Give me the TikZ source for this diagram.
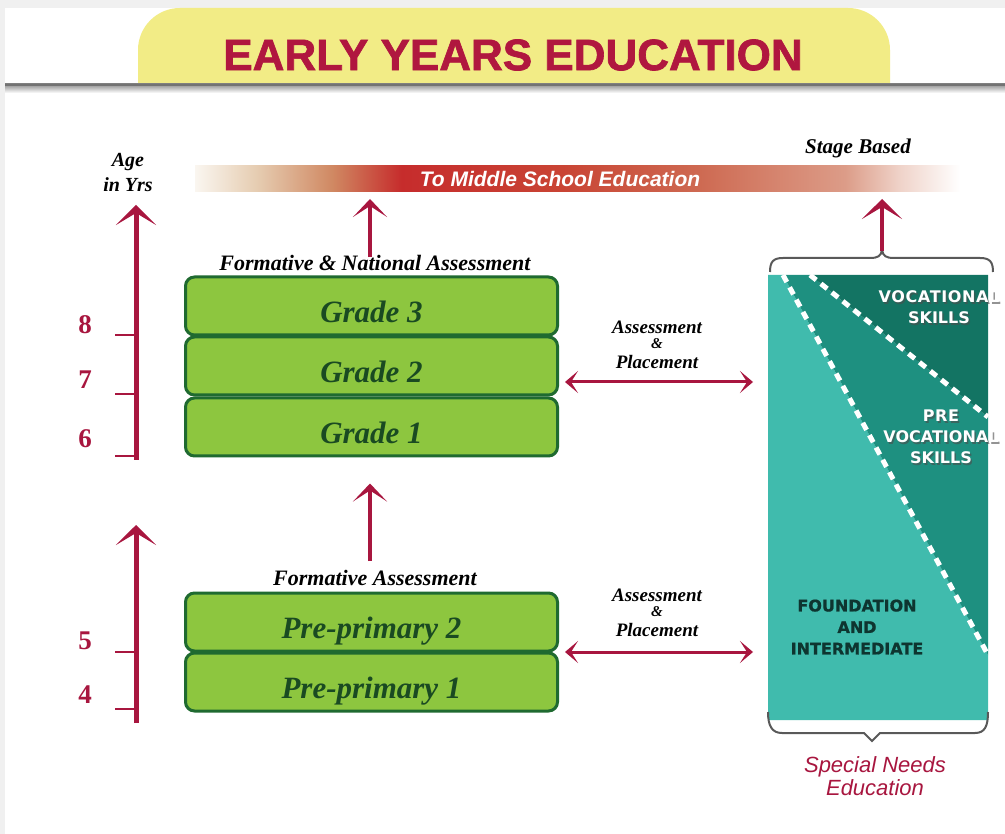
\documentclass[tikz,border=0pt]{standalone}
\usepackage{fontspec}
\setsansfont{Liberation Sans}
\newfontfamily\timesbf{Liberation Serif}
\newfontfamily\djv{DejaVu Sans}
\usetikzlibrary{arrows.meta}
\definecolor{crim}{HTML}{A8163F}
\definecolor{titlered}{HTML}{B0173F}
\definecolor{tabyellow}{HTML}{F2EC86}
\definecolor{gfill}{HTML}{8DC63F}
\definecolor{gborder}{HTML}{1F6A30}
\definecolor{gtext}{HTML}{1A4A22}
\definecolor{tlight}{HTML}{40BBAD}
\definecolor{tmid}{HTML}{1E9080}
\definecolor{tdark}{HTML}{137463}
\definecolor{ftext}{HTML}{0E3530}
\definecolor{bwhite}{HTML}{FAF6F0}
\definecolor{btan}{HTML}{E6CDB2}
\definecolor{bmid}{HTML}{D08862}
\definecolor{bred}{HTML}{C62C2C}
\definecolor{bred2}{HTML}{C94434}
\definecolor{bsal}{HTML}{CE6A52}
\definecolor{bpink}{HTML}{DC9C88}
\definecolor{bfade}{HTML}{EFD2C8}
\pgfdeclarehorizontalshading{barshade}{100bp}{color(0bp)=(bwhite); color(25bp)=(bwhite); color(29bp)=(btan); color(34bp)=(bmid); color(38.5bp)=(bred); color(49bp)=(bred2); color(58bp)=(bsal); color(67.5bp)=(bpink); color(71bp)=(bfade); color(75bp)=(white); color(100bp)=(white)}
\begin{document}
\begin{tikzpicture}[x=1pt,y=-1pt,
  bigarrow/.style={draw=crim, line width=5pt, -{Stealth[length=20pt,width=40pt,inset=12pt]}},
  midarrow/.style={draw=crim, line width=4pt, -{Stealth[length=18pt,width=34pt,inset=11pt]}},
  duoarrow/.style={draw=crim, line width=3pt, {Stealth[length=13pt,width=22pt,inset=7pt]}-{Stealth[length=13pt,width=22pt,inset=7pt]}},
  gradebox/.style={draw=gborder, fill=gfill, line width=3pt, rounded corners=9pt, minimum width=372pt, minimum height=58pt, inner sep=0pt, text height=33pt, text depth=0pt, text=gtext, font=\fontsize{31}{33}\selectfont\timesbf\bfseries\itshape},
  seriflabel/.style={font=\fontsize{22}{24}\selectfont\timesbf\bfseries\itshape, inner sep=0pt},
  aplabel/.style={font=\fontsize{19}{20}\selectfont\timesbf\bfseries\itshape, inner sep=0pt},
  amplabel/.style={font=\fontsize{15}{16}\selectfont\timesbf\bfseries\itshape, inner sep=0pt},
  agenum/.style={text=crim, font=\fontsize{27}{28}\selectfont\timesbf\bfseries, inner sep=0pt},
  tickline/.style={draw=crim, line width=2.5pt},
  whitecap/.style={text=white, font=\fontsize{16}{21}\selectfont\djv\bfseries, align=center, inner sep=0pt},
  bracket/.style={draw=black!65, line width=2pt},
  whitedash/.style={draw=white, line width=5pt, dash pattern=on 8pt off 6pt}
]
\useasboundingbox (0,0) rectangle (1005,834);
\fill[white] (0,0) rectangle (1005,834);
\fill[black!6] (0,0) rectangle (1005,8);
\fill[black!6] (0,0) rectangle (5,834);
% title tab
\begin{scope}
\clip (0,0) rectangle (1005,86);
\fill[tabyellow, rounded corners=42pt] (138,8) rectangle (890,160);
\end{scope}
\shade[top color=black!45, bottom color=white] (5,84) rectangle (1005,93);
\fill[black!55] (5,84) rectangle (1005,86);
\node[text=titlered, font=\fontsize{44}{46}\selectfont\sffamily\bfseries\addfontfeature{FakeBold=1.5}, inner sep=0pt] (title) at (513,55) {EARLY YEARS EDUCATION};

% gradient bar
\shade[shading=barshade] (195,166) rectangle (960,192);
\node[text=white, font=\fontsize{21}{23}\selectfont\sffamily\bfseries\itshape, inner sep=0pt] (bar) at (577,179) {\hspace*{-34pt}To Middle School Education};
\coordinate (barbottom) at (577,192);

% age axis
\node[font=\fontsize{20}{25}\selectfont\timesbf\bfseries\itshape, align=center, inner sep=0pt] (age) at (128,172) {Age\\in Yrs};
\coordinate (ax6) at (136,460);
\coordinate (axtop) at (136,205);
\coordinate (ax4) at (136,723);
\coordinate (axmid) at (136,525);
\draw[bigarrow] (ax6) -- (axtop);
\draw[bigarrow] (ax4) -- (axmid);
\draw[tickline] (115,335) -- (136,335);
\draw[tickline] (115,394) -- (136,394);
\draw[tickline] (115,456) -- (136,456);
\draw[tickline] (115,652) -- (136,652);
\draw[tickline] (115,709) -- (136,709);
\node[agenum] (n8) at (85,325) {8};
\node[agenum] (n7) at (85,380) {7};
\node[agenum] (n6) at (85,439) {6};
\node[agenum] (n5) at (85,641) {5};
\node[agenum] (n4) at (85,695) {4};

% grade boxes
\node[gradebox] (g3) at (371.5,306) {Grade 3};
\node[gradebox] (g2) at (371.5,366) {Grade 2};
\node[gradebox] (g1) at (371.5,427) {Grade 1};
\node[gradebox] (p2) at (371.5,622) {Pre-primary 2};
\node[gradebox] (p1) at (371.5,682) {Pre-primary 1};

\node[seriflabel] (fna) at (375,263) {Formative \& National Assessment};
\node[seriflabel] (fa) at (375,578) {Formative Assessment};

\draw[midarrow] ([yshift=-2pt]fna.north -| 370,0) -- (370,199);
\draw[midarrow] (370,561) -- ([yshift=-26pt]g1.south -| 370,0);

% assessment & placement
\node[aplabel] (ap1a) at (657,327) {Assessment};
\node[amplabel] (ap1b) at (657,344) {\&};
\node[aplabel] (ap1c) at (657,362) {Placement};
\node[aplabel] (ap2a) at (657,595) {Assessment};
\node[amplabel] (ap2b) at (657,612) {\&};
\node[aplabel] (ap2c) at (657,630) {Placement};
\coordinate (a1l) at (565,382);
\coordinate (a1r) at (753,382);
\coordinate (a2l) at (565,652);
\coordinate (a2r) at (753,652);
\draw[duoarrow] (a1l) -- (a1r);
\draw[duoarrow] (a2l) -- (a2r);

% special needs panel
\fill[tlight] (768,275) -- (783,275) -- (988,655) -- (988,720) -- (768,720) -- cycle;
\fill[tmid] (783,275) -- (810,275) -- (988,417) -- (988,655) -- cycle;
\fill[tdark] (810,275) -- (988,275) -- (988,417) -- cycle;
\draw[whitedash] (783,275) -- (988,655);
\draw[whitedash] (810,275) -- (988,417);

\node[whitecap, text=black!70, opacity=0.6] at (940.5,309.5) {\addfontfeature{LetterSpace=4}VOCATIONAL\\SKILLS};
\node[whitecap] (voc) at (939,307.5) {\addfontfeature{LetterSpace=4}VOCATIONAL\\SKILLS};
\node[whitecap, text=black!70, opacity=0.6] at (942.5,438.5) {\addfontfeature{LetterSpace=4}PRE\\VOCATIONAL\\SKILLS};
\node[whitecap] (prevoc) at (941,436.5) {\addfontfeature{LetterSpace=4}PRE\\VOCATIONAL\\SKILLS};
\node[whitecap, text=ftext, font=\fontsize{16}{21.5}\selectfont\djv\bfseries\addfontfeature{FakeBold=1}] (found) at (857,627) {FOUNDATION\\AND\\INTERMEDIATE};

% braces
\coordinate (bracetip) at (882,250);
\draw[bracket] (770,272) .. controls (770,262) and (773,258) .. (783,258) -- (870,258) .. controls (878,258) and (881,256) .. (bracetip) .. controls (883,256) and (886,258) .. (894,258) -- (980,258) .. controls (990,258) and (993,262) .. (993,272);
\draw[bigarrow, line width=4.5pt] ([yshift=-1pt]bracetip) -- (bracetip |- 0,199);
\coordinate (btip) at (872,741);
\draw[bracket] (768,712) .. controls (768,726) and (772,733) .. (782,733) -- (864,733) -- (btip) -- (880,733) -- (975,733) .. controls (985,733) and (988,726) .. (988,712);

\node[text=crim, font=\fontsize{22}{23}\selectfont\sffamily\itshape, align=center, inner sep=0pt] (sne) at (875,776) {Special Needs\\Education};
\node[font=\fontsize{21}{22}\selectfont\timesbf\bfseries\itshape, inner sep=0pt] (stage) at (858,148) {Stage Based};
\end{tikzpicture}
\end{document}
